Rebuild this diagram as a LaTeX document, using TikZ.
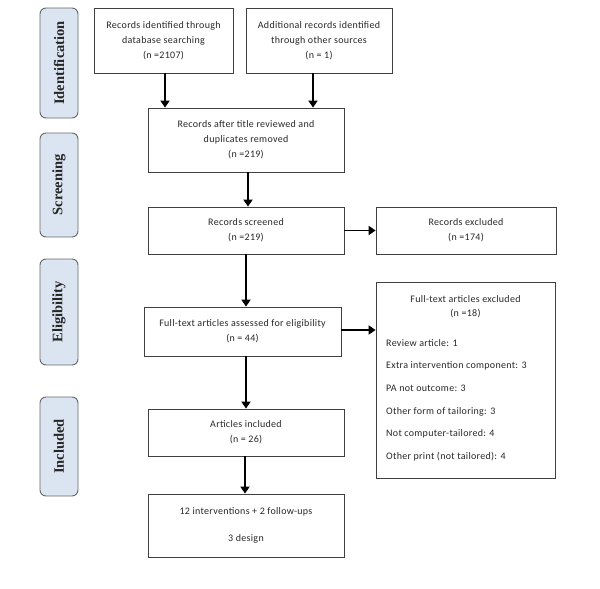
\documentclass[tikz,border=0pt]{standalone}
\usepackage{fontspec}
\setmainfont{Liberation Serif}
\newfontfamily\boxfont[LetterSpace=3]{Carlito}
\usetikzlibrary{arrows.meta}
\definecolor{phasefill}{RGB}{219,229,241}
\definecolor{txt}{RGB}{40,40,40}
\tikzset{
  box/.style={draw=black!75, line width=0.8pt, fill=white, align=center, text=txt,
    font=\boxfont\fontsize{10}{15}\selectfont, inner sep=0pt},
  plain/.style={align=center, text=txt, inner sep=0pt},
  phase/.style={draw=black!60, line width=0.9pt, fill=phasefill, rounded corners=6pt,
    minimum width=38pt, inner sep=0pt},
  phasetext/.style={rotate=90, font=\fontsize{14.5}{16}\selectfont\bfseries, text=black!85},
  arr/.style={line width=1.8pt, -{Triangle[width=9pt,length=7pt]}}
}
\begin{document}
\begin{tikzpicture}[x=1pt,y=-1pt]
\useasboundingbox (0,0) rectangle (600,589);
% phase labels
\node[phase, minimum height=110pt] (p1) at (59,63) {};
\node[phasetext] at (p1) {Identification};
\node[phase, minimum height=104pt] (p2) at (59,185) {};
\node[phasetext] at (p2) {Screening};
\node[phase, minimum height=106pt] (p3) at (59,312) {};
\node[phasetext] at (p3) {Eligibility};
\node[phase, minimum height=99pt] (p4) at (59,446.5) {};
\node[phasetext] at (p4) {Included};
% boxes
\node[box, minimum width=139pt, minimum height=65pt] (b1) at (163.5,40.5)
  {Records identified through\\database searching\\(n =2107)};
\node[box, minimum width=146pt, minimum height=65pt] (b2) at (319,40.5)
  {Additional records identified\\through other sources\\(n = 1)};
\node[box, minimum width=196pt, minimum height=64pt] (b3) at (246,140)
  {Records after title reviewed and\\duplicates removed\\(n =219)};
\node[box, minimum width=196pt, minimum height=47pt] (b4) at (246,230.5)
  {Records screened\\(n =219)};
\node[box, minimum width=180pt, minimum height=47pt] (b5) at (466,230.5)
  {Records excluded\\(n =174)};
\node[box, minimum width=197pt, minimum height=49pt] (b6) at (242.5,331.5)
  {Full-text articles assessed for eligibility\\(n = 44)};
\node[box, minimum width=179pt, minimum height=196pt] (b7) at (465.5,380) {};
\node[plain, anchor=north, font=\boxfont\fontsize{10}{14}\selectfont] (t7) at (465.5,295)
  {Full-text articles excluded\\(n =18)};
\node[plain, anchor=north west, align=left,
  font=\boxfont\fontsize{10}{22.7}\selectfont] (l7) at (386,339)
  {Review article: 1\\Extra intervention component: 3\\PA not outcome: 3\\Other form of tailoring: 3\\Not computer-tailored: 4\\Other print (not tailored): 4};
\node[box, minimum width=196pt, minimum height=47pt] (b8) at (246,432.5)
  {Articles included\\(n = 26)};
\node[box, minimum width=196pt, minimum height=63pt, font=\boxfont\fontsize{10}{27}\selectfont] (b9) at (246,525.5)
  {12 interventions + 2 follow-ups\\3 design};
% arrows
\draw[arr] ([xshift=1.5pt]b1.south) -- ([xshift=1.5pt]b1.south |- b3.north);
\draw[arr] ([xshift=-6pt]b2.south) -- ([xshift=-6pt]b2.south |- b3.north);
\draw[arr] ([xshift=2pt]b3.south) -- ([xshift=2pt]b3.south |- b4.north);
\draw[arr] (b4.south) -- (b4.south |- b6.north);
\draw[arr] (b4.east) -- (b5.west);
\draw[arr] ([yshift=1.5pt]b6.east) -- ([yshift=1.5pt]b6.east -| b7.west);
\draw[arr] (b8.north |- b6.south) -- (b8.north);
\draw[arr] ([xshift=-1pt]b8.south) -- ([xshift=-1pt]b9.north);
\end{tikzpicture}
\end{document}
